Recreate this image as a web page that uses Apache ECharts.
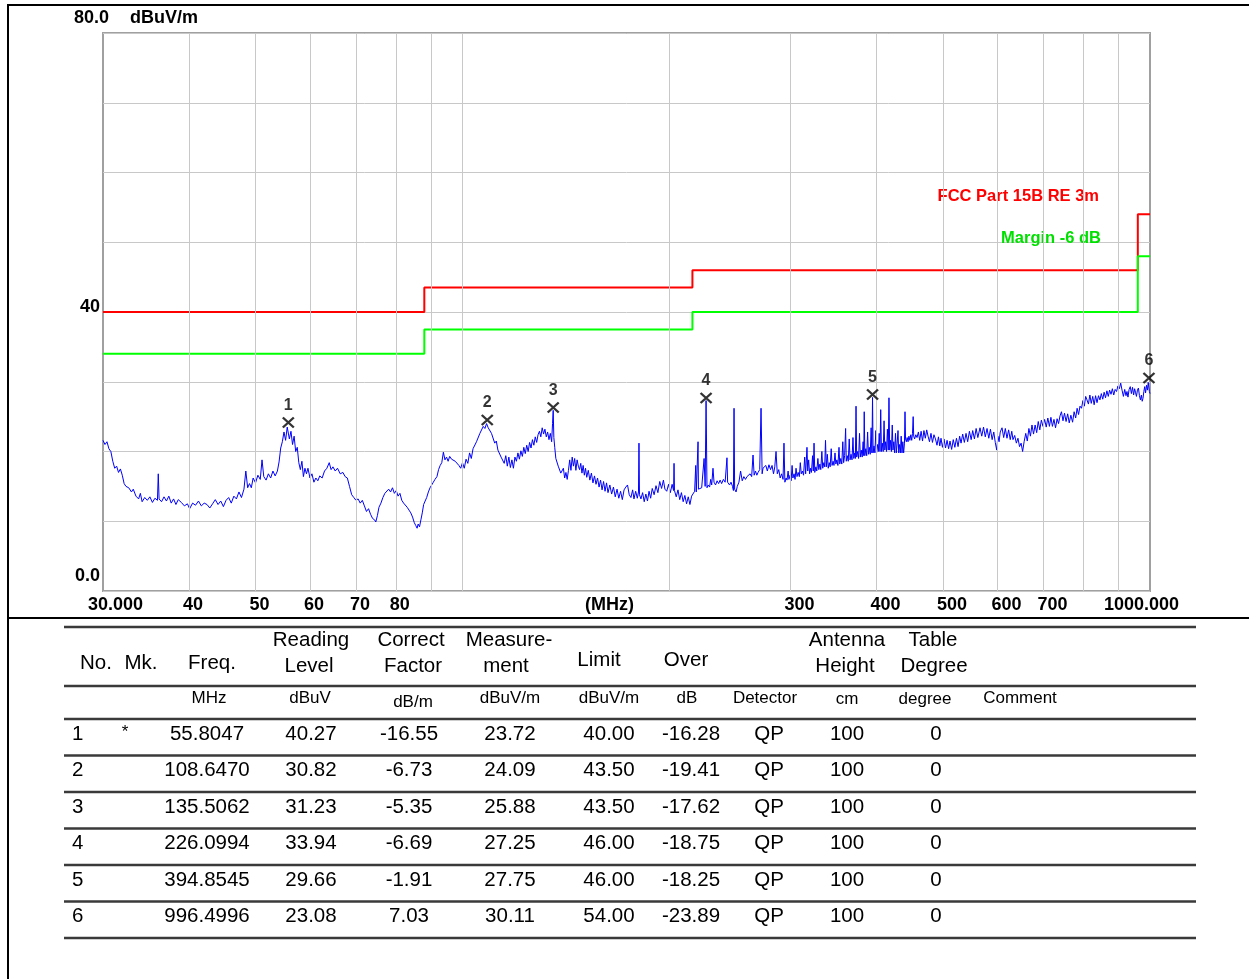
<!DOCTYPE html>
<html><head><meta charset="utf-8">
<script src="https://cdn.jsdelivr.net/npm/echarts@6/dist/echarts.min.js"></script>
<style>html,body{margin:0;padding:0;background:#fff}#c{width:1249px;height:979px}</style>
</head><body><div id="c"></div>
<script>
// ---------- data ----------
const markerNo = ['1','2','3','4','5','6'];
const markerMk = ['*','','','','',''];
const markerFreq = [55.8047,108.6470,135.5062,226.0994,394.8545,996.4996];
const readingLevel = [40.27,30.82,31.23,33.94,29.66,23.08];
const correctFactor = [-16.55,-6.73,-5.35,-6.69,-1.91,7.03];
const measurement = [23.72,24.09,25.88,27.25,27.75,30.11];
const limitAt = [40.00,43.50,43.50,46.00,46.00,54.00];
const overLimit = [-16.28,-19.41,-17.62,-18.75,-18.25,-23.89];
const detector = ['QP','QP','QP','QP','QP','QP'];
const antennaHeight = ['100','100','100','100','100','100'];
const tableDegree = ['0','0','0','0','0','0'];

const limitFreq = [30, 88, 216, 960, 1000];
const limitLevel = [40, 43.5, 46, 54, 54];
const marginLevel = [34, 37.5, 40, 48, 48];
const limitName = 'FCC Part 15B RE 3m';
const marginName = 'Margin -6 dB';

const gridFreq = [40,50,60,70,80,90,100,200,300,400,500,600,700,800,900];
const xTickFreq = [30,40,50,60,70,80,300,400,500,600,700,1000];
const xTickText = ['30.000','40','50','60','70','80','300','400','500','600','700','1000.000'];
const yTickLevel = [0, 40];
const yTickText = ['0.0','40'];

const trace = [
[30.0,21.6],[30.2,21.0],[30.4,21.4],[30.6,20.4],[30.8,20.0],[31.0,18.6],[31.2,17.6],[31.4,17.9],[31.6,17.0],[31.8,17.5],
[32.0,16.6],[32.2,15.4],[32.4,15.0],[32.7,14.8],[33.0,14.2],[33.2,14.6],[33.5,13.6],[33.8,13.2],[34.0,14.0],[34.2,12.8],
[34.5,13.4],[34.8,13.0],[35.1,13.5],[35.4,12.7],[35.7,13.3],[36.0,13.0],[36.1,16.8],[36.2,13.2],[36.5,12.8],[36.8,13.5],
[37.1,12.9],[37.4,13.6],[37.7,12.6],[38.0,13.2],[38.3,12.4],[38.6,13.1],[39.0,12.7],[39.4,12.2],[39.8,12.5],[40.1,11.8],
[40.5,12.6],[40.9,12.3],[41.3,12.9],[41.7,12.2],[42.1,12.6],[42.5,12.4],[42.9,11.9],[43.3,12.5],[43.7,13.1],[44.1,12.4],
[44.5,12.9],[44.9,12.1],[45.3,13.0],[45.7,13.4],[46.1,12.6],[46.5,13.6],[46.9,13.2],[47.3,14.2],[47.7,13.4],[48.1,14.6],
[48.4,17.2],[48.7,14.8],[49.0,15.4],[49.3,14.8],[49.6,16.2],[50.0,15.5],[50.4,16.6],[50.8,16.0],[51.1,18.8],[51.4,16.4],
[51.8,15.9],[52.2,16.8],[52.6,16.2],[53.0,17.2],[53.4,16.5],[53.8,17.2],[54.1,18.5],[54.4,20.5],[54.7,21.4],[55.0,22.8],
[55.3,21.6],[55.6,23.5],[55.8,23.7],[56.0,21.8],[56.3,22.9],[56.6,21.0],[56.9,22.2],[57.2,20.0],[57.5,20.6],[57.8,18.4],
[58.1,17.4],[58.4,18.6],[58.7,16.4],[59.0,17.6],[59.3,16.8],[59.6,17.6],[60.0,16.2],[60.4,16.8],[60.8,15.6],[61.2,16.2],
[61.6,15.8],[62.0,16.5],[62.5,16.2],[63.0,17.2],[63.5,17.6],[64.0,18.4],[64.4,17.4],[64.8,17.8],[65.3,17.2],[65.8,17.6],
[66.4,16.8],[67.0,17.0],[67.5,16.4],[68.0,16.2],[68.5,15.0],[69.0,13.8],[69.5,13.4],[70.0,13.0],[70.5,13.2],[71.0,12.6],
[71.5,13.0],[72.0,12.2],[72.5,11.4],[73.0,11.8],[73.5,11.0],[74.0,10.4],[74.5,10.2],[74.8,9.9],[75.2,10.8],[75.6,12.0],
[76.1,12.6],[76.6,13.4],[77.1,14.0],[77.6,13.8],[78.1,14.6],[78.6,14.2],[79.1,14.8],[79.6,14.0],[80.1,14.4],[80.6,13.6],
[81.1,14.0],[81.6,13.0],[82.1,12.6],[82.6,12.8],[83.1,12.0],[83.6,11.6],[84.1,11.2],[84.6,10.6],[85.1,9.8],[85.5,9.4],
[85.9,9.0],[86.2,9.6],[86.6,9.2],[87.0,10.2],[87.4,11.2],[87.8,12.4],[88.2,12.2],[88.7,13.4],[89.2,14.2],[89.7,14.8],
[90.2,14.6],[90.7,15.6],[91.2,16.0],[91.8,16.4],[92.3,17.4],[92.8,18.0],[93.3,18.4],[93.8,19.9],[94.3,18.8],[94.8,19.2],
[95.3,18.6],[95.8,19.3],[96.4,18.9],[97.0,19.1],[97.6,18.6],[98.2,18.4],[98.8,18.0],[99.4,17.6],
[100.0,18.4],[100.6,17.6],[101.2,18.9],[101.8,18.3],[102.4,19.8],[103.0,19.0],[103.6,20.4],[104.2,20.6],[104.8,21.4],[105.4,21.5],
[106.0,22.6],[106.6,22.7],[107.2,23.6],[107.8,23.3],[108.4,24.0],[108.65,24.1],[109.0,23.4],[109.6,23.4],[110.2,22.6],[110.8,22.5],
[111.4,21.2],[112.0,21.5],[112.6,20.2],[113.2,20.0],[113.8,19.2],[114.4,19.3],[115.0,18.3],[115.6,19.4],[116.2,17.9],[116.8,19.2],
[117.4,17.7],[118.0,18.8],[118.6,17.6],[119.2,19.2],[119.8,18.6],[120.4,19.8],[121.0,18.9],[121.6,20.1],[122.2,19.3],[122.8,20.6],
[123.4,19.7],[124.0,20.9],[124.6,20.0],[125.2,21.3],[125.8,20.5],[126.4,21.7],[127.0,20.9],[127.6,22.1],[128.2,21.3],[128.8,22.4],
[129.4,22.9],[130.0,22.1],[130.6,23.4],[131.2,22.5],[131.8,23.2],[132.4,22.1],[133.0,22.8],[133.6,21.7],[134.2,22.6],[134.8,21.4],
[135.2,24.0],[135.5,25.9],[135.8,22.0],
[136.2,20.6],[136.7,19.0],[137.2,18.8],[137.8,17.9],[138.4,18.1],[139.0,16.9],[139.6,17.1],[140.2,17.6],[140.8,16.2],[141.4,17.0],
[142.0,16.0],[142.6,17.3],[143.2,18.8],[143.8,17.3],[144.4,19.2],[145.0,17.9],[145.6,19.0],[146.2,17.3],[146.8,18.8],[147.4,17.9],
[148.0,17.4],[148.6,18.3],[149.2,16.9],[149.8,18.0],[150.4,16.6],[151.0,17.6],[151.6,16.3],[152.4,17.3],[153.2,15.9],[154.0,16.9],
[154.8,15.5],[155.6,16.5],[156.4,15.3],[157.2,16.2],[158.0,14.9],[158.8,15.9],[159.6,14.5],[160.4,15.7],[161.2,14.3],[162.0,15.5],
[162.8,14.1],[163.8,15.2],[164.8,13.9],[165.8,14.9],[166.8,13.5],[167.8,14.6],[168.8,13.3],[169.8,14.3],[170.8,13.1],[171.8,14.5],
[172.8,14.9],[173.8,15.2],[174.8,13.8],[175.8,13.4],[176.8,14.5],[177.6,13.2],[178.6,14.3],[179.6,13.3],[180.3,14.2],[180.6,21.2],
[180.9,13.8],[181.8,13.2],[182.8,14.1],[183.8,12.8],[184.8,13.9],[185.8,12.9],[186.8,14.3],[187.8,13.3],[188.8,14.7],[190.0,13.8],
[191.2,15.1],[192.4,14.1],[193.6,15.7],[194.8,14.7],[196.0,15.9],[197.0,14.6],[198.2,14.3],[199.4,15.3],[200.6,14.1],[201.8,15.3],
[202.8,14.4],[203.1,18.3],[203.4,14.4],[204.6,13.5],[205.8,14.5],[207.0,13.1],[208.2,14.1],[209.4,12.8],[210.6,13.7],[211.8,12.5],
[213.0,13.5],[214.2,12.4],[215.4,13.6],[216.6,13.4],[217.6,14.3],[218.4,18.0],[218.8,14.2],[219.8,14.4],[220.1,21.4],
[220.4,14.6],[221.6,14.4],[222.8,14.8],[223.8,14.6],[224.6,19.0],[225.4,15.0],[226.1,27.3],[226.8,14.8],[227.8,15.2],[228.8,14.9],
[229.6,16.0],[230.4,15.2],[231.4,17.6],[232.2,15.6],[233.4,15.2],[234.6,15.8],[235.8,15.4],[237.0,15.9],[238.2,15.4],[239.6,16.0],
[241.0,15.6],[242.1,15.4],[242.5,19.1],[243.0,15.6],[244.6,15.2],[245.8,15.6],[247.0,15.0],[247.8,14.4],[248.3,26.2],[248.8,14.6],
[250.0,14.2],[251.0,15.0],[252.4,15.6],[253.8,17.2],[255.2,15.8],[256.6,16.4],[258.0,16.0],[259.3,16.4],[260.6,16.2],[262.0,16.8],
[263.4,16.4],[264.6,19.5],[265.6,16.6],[266.8,17.2],[268.0,16.6],[269.1,17.0],[270.6,17.4],[271.8,26.2],[272.8,16.8],[273.6,17.6],
[274.8,17.4],[276.2,18.0],[277.6,17.2],[279.1,18.1],[280.6,17.4],[282.0,18.0],[283.4,16.8],[284.6,17.8],[285.8,20.0],[287.0,16.8],
[288.4,17.4],[289.8,16.2],[291.2,16.8],[292.6,16.0],[293.5,21.2],[294.4,15.6],[295.6,16.2],
[296.5,15.9],[297.6,17.2],[298.4,16.0],[299.6,16.6],[300.6,15.8],[301.6,18.0],[302.4,16.2],[303.6,16.8],[304.6,16.0],[305.6,17.6],
[306.6,16.4],[307.8,17.0],[309.0,16.4],[310.0,18.4],[311.0,16.8],[312.2,17.2],[313.4,16.6],[314.6,19.2],[315.6,16.8],[317.0,20.6],
[317.8,17.2],[318.8,18.8],[319.8,16.8],[320.8,17.6],[321.8,17.0],[323.0,19.4],[323.8,17.2],[324.6,21.2],[325.4,17.0],[326.6,17.8],
[327.6,17.2],[328.8,19.0],[329.8,17.4],[331.0,18.2],[332.0,17.4],[333.2,20.0],[334.2,17.6],[335.4,18.4],[336.4,17.8],[337.3,21.6],
[338.2,17.8],[339.4,19.6],[340.4,17.6],[341.6,18.4],[342.6,17.8],[343.8,20.4],[344.8,18.0],[346.0,18.6],[347.0,18.0],[348.2,19.8],
[349.2,18.2],[350.4,18.8],[351.6,18.0],[352.9,20.6],[353.8,18.2],[355.0,19.0],[356.2,18.2],[357.4,21.4],[358.4,18.4],[359.6,19.4],
[360.8,23.3],[361.6,18.6],[362.8,19.4],[364.0,18.6],[365.2,21.8],[366.2,18.8],[367.4,19.6],[368.6,18.8],[369.8,22.0],[370.8,19.0],
[372.0,19.8],[372.8,19.0],[373.6,26.5],[374.4,19.2],[375.6,20.0],[376.8,19.0],[378.0,22.6],[379.0,19.2],[380.2,20.2],[381.4,19.2],
[382.6,21.4],[383.4,19.4],[384.0,25.7],[384.8,19.4],[386.0,20.4],[387.2,19.4],[388.4,22.8],[389.4,19.6],[390.6,20.6],[391.8,19.6],
[393.0,23.4],[394.0,19.8],[394.85,27.75],[395.6,19.8],[396.8,20.8],[398.0,19.8],[399.2,23.0],[400.2,19.8],[401.4,21.0],[402.6,20.0],
[403.8,22.6],[404.8,20.0],[405.8,26.0],[406.8,20.0],[408.0,21.2],[409.2,20.0],[410.4,24.4],[411.4,20.2],[412.6,21.4],[413.8,20.0],
[415.0,23.2],[416.2,20.2],[417.2,27.7],[418.2,20.2],[419.4,21.6],[420.6,20.0],[421.8,23.8],[422.8,20.2],[424.0,21.4],[425.2,19.8],
[426.4,22.6],[427.6,19.8],[428.8,21.2],[430.0,23.0],[431.0,19.8],[432.2,21.0],[433.4,19.8],[434.6,22.2],[435.8,19.8],[437.0,21.4],
[438.2,19.8],[439.4,21.2],[440.2,25.7],[441.0,21.8],[442.2,21.4],[443.4,22.0],[444.7,21.4],[446.0,22.2],[447.4,21.6],[448.8,22.4],
[450.2,21.6],[451.4,22.6],[452.4,25.0],[453.2,22.2],[454.6,21.8],[456.4,22.4],[458.3,22.0],
[460.4,22.8],[462.4,21.6],[464.6,22.9],[466.8,21.5],[469.0,23.0],[471.2,21.9],[473.4,23.1],[475.5,22.2],[477.8,21.4],[480.2,22.6],
[482.6,21.3],[485.0,22.4],[487.5,21.8],[490.0,20.9],[492.4,22.1],[494.6,20.8],[496.6,21.9],[499.0,20.6],[501.6,21.8],[504.2,20.5],
[506.8,21.6],[509.4,20.4],[511.8,21.5],[514.6,20.3],[517.4,21.7],[520.2,20.6],[523.0,21.9],[525.8,20.7],[528.6,22.2],[531.1,21.2],
[534.0,22.5],[537.0,21.3],[540.0,22.6],[543.0,21.4],[546.2,22.9],[549.4,21.7],[552.2,23.0],[555.4,21.8],[558.6,23.3],[561.8,22.0],
[565.9,23.4],[569.2,22.2],[572.6,23.5],[576.0,22.1],[579.4,23.3],[582.8,21.9],[586.0,23.2],[589.4,21.7],[592.6,22.8],[595.6,21.3],
[598.5,20.2],[600.8,22.2],[603.2,21.4],[605.6,22.8],[609.2,23.4],[612.6,22.0],[616.0,23.3],[619.4,21.9],[622.8,23.1],[626.2,21.7],
[629.4,22.9],[632.0,21.7],[635.6,22.3],[639.2,21.2],[642.6,21.9],[646.0,20.7],[649.4,21.2],[652.7,20.0],[656.0,21.4],[659.6,22.6],
[663.0,21.5],[666.6,23.3],[670.0,22.2],[673.5,23.8],[677.0,22.5],[680.6,23.8],[684.2,22.7],[687.8,24.3],[691.4,23.1],[695.0,24.5],
[698.8,23.6],[702.6,24.6],[706.4,23.5],[710.2,24.8],[714.0,23.6],[717.6,24.9],[721.2,23.6],[725.0,24.6],[728.8,23.4],[732.6,24.7],
[736.2,24.0],[739.8,25.1],[743.4,25.7],[747.2,24.4],[751.0,25.5],[755.0,24.3],[759.0,25.4],[763.0,24.1],[767.2,25.2],[771.6,24.2],
[775.6,25.7],[779.6,24.8],[783.4,26.2],[787.2,25.3],[791.0,26.5],[795.0,26.2],[798.8,27.3],[802.6,26.5],[806.2,27.9],[809.7,27.4],
[813.6,26.8],[817.6,28.1],[821.4,26.9],[825.4,27.9],[829.4,26.7],[833.4,28.0],[837.4,27.0],[841.6,28.0],[845.6,27.4],[849.6,28.3],
[853.6,27.5],[857.6,28.5],[861.6,27.7],[865.6,28.7],[869.6,27.9],[873.4,28.8],[877.6,28.2],[881.6,29.0],[885.6,28.1],[889.8,28.9],
[894.0,28.6],[898.2,29.4],[902.4,29.0],[906.5,29.8],[910.6,28.8],[914.8,27.9],[918.8,28.9],[922.8,28.0],[925.8,28.6],[928.9,27.8],
[932.4,28.9],[936.0,29.3],[939.6,28.3],[943.2,29.2],[946.6,28.1],[949.8,29.0],[952.5,28.5],[955.6,27.9],[958.8,28.8],[962.0,29.1],
[965.2,28.0],[968.4,27.4],[971.6,28.1],[974.2,27.2],[976.7,27.6],[979.6,28.6],[982.4,29.3],[985.2,28.4],[988.4,29.5],[991.6,28.8],
[994.0,29.9],[996.5,30.1],[998.0,28.6],[1000.0,28.3]
];

// ---------- layout ----------
const PL = 103, PT = 33, PW = 1047, PH = 558;
const axisFont = 'bold 18px "Liberation Sans", Arial, sans-serif';
const legendFont = 'bold 16.5px "Liberation Sans", Arial, sans-serif';
const tabFont = '20.5px "Liberation Sans", Arial, sans-serif';
const unitFont = '17px "Liberation Sans", Arial, sans-serif';

const chart = echarts.init(document.getElementById('c'), null, {renderer: 'canvas'});

function stepData(levels) { return limitFreq.map((f, i) => [f, levels[i]]); }

chart.setOption({
  animation: false,
  backgroundColor: '#fff',
  grid: {left: PL, top: PT, width: PW, height: PH, show: true, borderColor: '#a0a0a0', borderWidth: 2, backgroundColor: 'transparent'},
  xAxis: {type: 'log', logBase: 10, min: 30, max: 1000,
    axisLine: {show: false}, axisTick: {show: false}, axisLabel: {show: false}, splitLine: {show: false}},
  yAxis: {type: 'value', min: 0, max: 80, interval: 10,
    axisLine: {show: false}, axisTick: {show: false}, axisLabel: {show: false},
    splitLine: {show: true, lineStyle: {color: '#c8c8c8', width: 1}}},
  series: [
    {type: 'line', name: 'grid', data: [], silent: true,
      markLine: {silent: true, symbol: ['none', 'none'], label: {show: false}, animation: false,
        lineStyle: {color: '#c8c8c8', width: 1, type: 'solid'},
        data: gridFreq.map(f => ({xAxis: f}))}},
    {type: 'line', name: limitName, step: 'end', data: stepData(limitLevel), showSymbol: false, silent: true,
      lineStyle: {color: '#ff0000', width: 2}, z: 3},
    {type: 'line', name: marginName, step: 'end', data: stepData(marginLevel), showSymbol: false, silent: true,
      lineStyle: {color: '#00ff00', width: 2}, z: 3},
    {type: 'line', name: 'trace', data: trace, showSymbol: false, silent: true,
      lineStyle: {color: '#0000ff', width: 1}, z: 4},
    {type: 'scatter', name: 'markers', data: markerFreq.map((f, i) => [f, measurement[i]]),
      symbol: 'path://M0,0L10,10M10,0L0,10', symbolSize: [11, 10], symbolOffset: [0, -3],
      itemStyle: {color: 'rgba(0,0,0,0)', borderColor: '#000', borderWidth: 2.2},
      label: {show: true, position: 'top', distance: 3, formatter: p => markerNo[p.dataIndex],
        color: '#000', fontWeight: 'bold', fontSize: 16, fontFamily: 'Liberation Sans'}, z: 5}
  ]
});

// ---------- texts and frame ----------
const g = [];
function txt(x, y, s, font, align, color) {
  g.push({type: 'text', silent: true, x: x, y: y,
    style: {text: s, font: font, fill: color || '#000', align: align || 'left', verticalAlign: 'middle'}});
}
function ln(x1, y1, x2, y2, w, c) {
  g.push({type: 'line', silent: true, shape: {x1, y1, x2, y2}, style: {stroke: c || '#000', lineWidth: w}});
}
// frame
ln(8, 5, 1249, 5, 2); ln(8, 4, 8, 979, 2); ln(8, 618, 1249, 618, 2);

// x tick labels
xTickFreq.forEach((f, i) => {
  const p = chart.convertToPixel({xAxisIndex: 0, yAxisIndex: 0}, [f, 0]);
  let x = p[0] - 6;
  if (i === 0) x = p[0] - 15;
  if (i === xTickFreq.length - 1) x = p[0] - 46;
  txt(x, p[1] + 14, xTickText[i], axisFont, 'left');
});
txt(585, 605, '(MHz)', axisFont, 'left');
// y tick labels
yTickLevel.forEach((v, i) => {
  const p = chart.convertToPixel({xAxisIndex: 0, yAxisIndex: 0}, [30, v]);
  txt(p[0] - 3, p[1] - (v === 0 ? 15 : 5), yTickText[i], axisFont, 'right');
});
const top80 = chart.convertToPixel({xAxisIndex: 0, yAxisIndex: 0}, [30, 80]);
txt(74, top80[1] - 15, '80.0', axisFont, 'left');
txt(130, top80[1] - 15, 'dBuV/m', axisFont, 'left');
// legends
txt(1099, 196, limitName, legendFont, 'right', '#ff0000');
txt(1101, 238, marginName, legendFont, 'right', '#00e000');

// ---------- table ----------
const TL = 64, TR = 1196;
const rowLines = [627, 686, 719, 755.5, 792, 828.5, 865, 901.5, 938];
rowLines.forEach(y => ln(TL, y, TR, y, 2.5, '#3a3a3a'));
const hdr = [
  [311, 640, 'Reading'], [411, 640, 'Correct'], [509, 640, 'Measure-'], [847, 640, 'Antenna'], [933, 640, 'Table'],
  [96, 663, 'No.'], [141, 663, 'Mk.'], [212, 663, 'Freq.'], [309, 666, 'Level'], [413, 666, 'Factor'], [506, 666, 'ment'],
  [599, 660, 'Limit'], [686, 660, 'Over'], [845, 666, 'Height'], [934, 666, 'Degree']
];
hdr.forEach(h => txt(h[0], h[1], h[2], tabFont, 'center'));
const units = [
  [209, 698, 'MHz'], [310, 698, 'dBuV'], [413, 702, 'dB/m'], [510, 698, 'dBuV/m'], [609, 698, 'dBuV/m'],
  [687, 698, 'dB'], [765, 698, 'Detector'], [847, 699, 'cm'], [925, 699, 'degree'], [1020, 698, 'Comment']
];
units.forEach(u => txt(u[0], u[1], u[2], unitFont, 'center'));
markerNo.forEach((n, i) => {
  const y = 734 + i * 36.5;
  txt(72, y, n, tabFont, 'left');
  if (markerMk[i]) txt(125, y - 2, markerMk[i], unitFont, 'center');
  txt(207, y, markerFreq[i].toFixed(4), tabFont, 'center');
  txt(311, y, readingLevel[i].toFixed(2), tabFont, 'center');
  txt(409, y, correctFactor[i].toFixed(2), tabFont, 'center');
  txt(510, y, measurement[i].toFixed(2), tabFont, 'center');
  txt(609, y, limitAt[i].toFixed(2), tabFont, 'center');
  txt(691, y, overLimit[i].toFixed(2), tabFont, 'center');
  txt(769, y, detector[i], tabFont, 'center');
  txt(847, y, antennaHeight[i], tabFont, 'center');
  txt(936, y, tableDegree[i], tabFont, 'center');
});

chart.setOption({graphic: g});
</script></body></html>
